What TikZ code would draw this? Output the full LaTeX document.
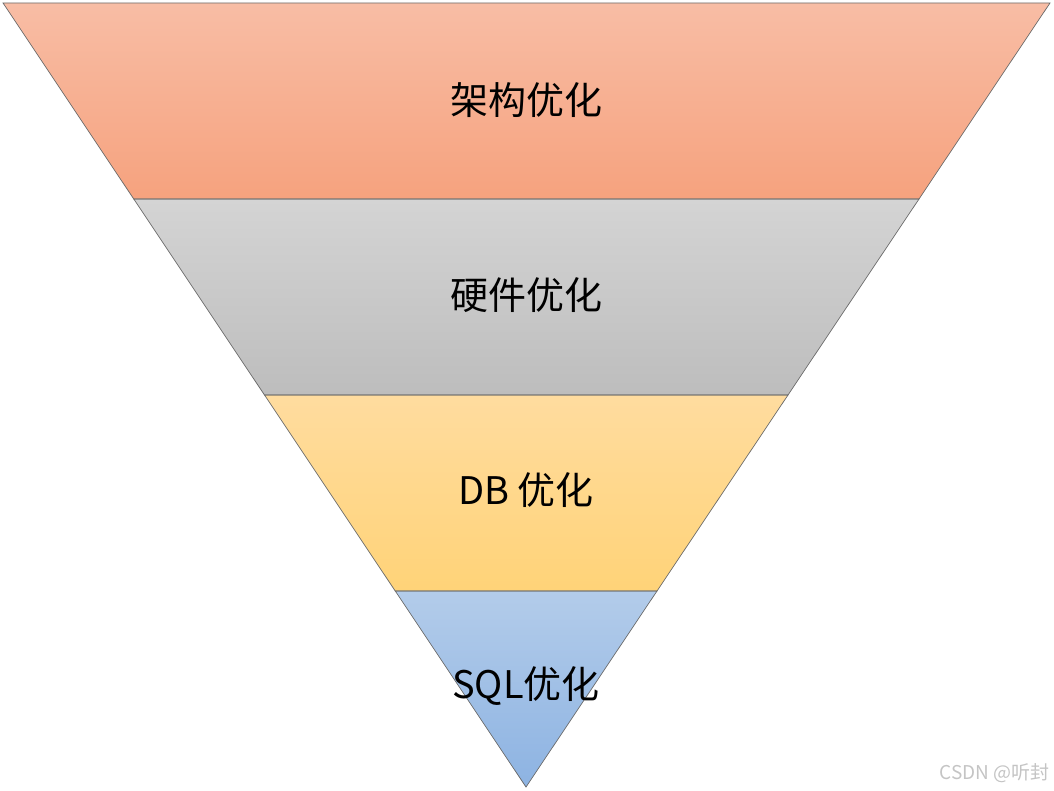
\documentclass[tikz,border=0pt]{standalone}
\usepackage{fontspec}
\newfontfamily\cjk{Noto Sans CJK SC}
\definecolor{rTop}{HTML}{F8BDA5}
\definecolor{rBot}{HTML}{F6A27E}
\definecolor{gTop}{HTML}{D4D4D4}
\definecolor{gBot}{HTML}{BDBDBD}
\definecolor{yTop}{HTML}{FFDC9F}
\definecolor{yBot}{HTML}{FFD378}
\definecolor{bTop}{HTML}{B3CCEA}
\definecolor{bBot}{HTML}{8DB3E2}
\definecolor{edge}{HTML}{6B6B6B}
\definecolor{wm}{HTML}{C4C4C4}
\tikzset{
  band/.style={draw=edge, line width=0.7pt, line join=miter},
  lbl/.style={font=\cjk\fontsize{38}{42}\selectfont, text=black, inner sep=0pt},
  wmark/.style={font=\cjk\fontsize{19}{22}\selectfont, text=wm, inner sep=0pt, anchor=east}
}
\begin{document}
\begin{tikzpicture}[x=1pt,y=-1pt]
\useasboundingbox (0,0) rectangle (1054,791);
% band boundaries: left edge x = 3 + 523*(y-3)/784, right edge x = 1050 - 524*(y-3)/784
\coordinate (L0) at (3,3);      \coordinate (R0) at (1050,3);
\coordinate (L1) at (133.75,199); \coordinate (R1) at (919,199);
\coordinate (L2) at (264.5,395);  \coordinate (R2) at (788,395);
\coordinate (L3) at (395.25,591); \coordinate (R3) at (657,591);
\coordinate (A) at (526,787);
\shade[top color=rTop, bottom color=rBot] (L0) -- (R0) -- (R1) -- (L1) -- cycle;
\shade[top color=gTop, bottom color=gBot] (L1) -- (R1) -- (R2) -- (L2) -- cycle;
\shade[top color=yTop, bottom color=yBot] (L2) -- (R2) -- (R3) -- (L3) -- cycle;
\shade[top color=bTop, bottom color=bBot] (L3) -- (R3) -- (A) -- cycle;
\draw[band] (L0) -- (R0) -- (R1) -- (L1) -- cycle;
\draw[band] (L1) -- (R1) -- (R2) -- (L2) -- cycle;
\draw[band] (L2) -- (R2) -- (R3) -- (L3) -- cycle;
\draw[band] (L3) -- (R3) -- (A) -- cycle;
\node[lbl] (t1) at (526,100) {架构优化};
\node[lbl] (t2) at (526,295) {硬件优化};
\node[lbl] (t3) at (526,490) {DB 优化};
\node[lbl] (t4) at (526,686) {SQL优化};
\node[wmark] (wm) at (1050,773) {CSDN @听封};
\end{tikzpicture}
\end{document}
